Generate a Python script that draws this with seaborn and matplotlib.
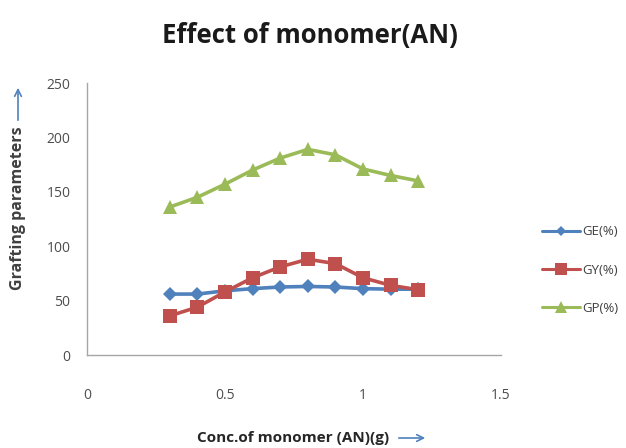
import matplotlib
matplotlib.use("Agg")
import matplotlib.pyplot as plt
import seaborn as sns
import pandas as pd

# Monomer concentration (g) and the three grafting parameters
conc = [0.3, 0.4, 0.5, 0.6, 0.7, 0.8, 0.9, 1.0, 1.1, 1.2]
ge = [56, 56, 59, 61, 62.5, 63, 62.5, 61, 60.5, 60.5]
gy = [36, 44, 58, 71, 81, 88, 84, 71, 64, 60]
gp = [136, 145, 157, 170, 181, 189, 184, 171, 165, 160]
series_names = ["GE(%)", "GY(%)", "GP(%)"]
x_ticks = [0, 0.5, 1, 1.5]
y_ticks = [0, 50, 100, 150, 200, 250]

df = pd.DataFrame({
    "conc": conc * 3,
    "value": ge + gy + gp,
    "param": [series_names[0]] * len(conc) + [series_names[1]] * len(conc)
             + [series_names[2]] * len(conc),
})

sns.set_style("white")
plt.rcParams["font.family"] = ["Open Sans", "DejaVu Sans"]

palette = {"GE(%)": "#4F81BD", "GY(%)": "#C0504D", "GP(%)": "#9BBB59"}
markers = {"GE(%)": "D", "GY(%)": "s", "GP(%)": "^"}

fig = plt.figure(figsize=(6.26, 4.48), dpi=100)
W, H = 626, 448
ax = fig.add_axes([87 / W, 1 - 355 / H, (501 - 87) / W, (355 - 83) / H])

sns.lineplot(data=df, x="conc", y="value", hue="param", style="param",
             markers=markers, dashes=False, palette=palette, ax=ax,
             linewidth=2.6, markeredgewidth=0, legend=False)
for line, name in zip(ax.lines, series_names):
    line.set_markersize({"GE(%)": 7, "GY(%)": 10, "GP(%)": 10}[name])

ax.set_xlim(0, 1.5)
ax.set_ylim(0, 250)
ax.set_xticks(x_ticks)
ax.set_xticklabels(["0", "0.5", "1", "1.5"])
ax.set_yticks(y_ticks)
ax.tick_params(axis="both", length=0, labelsize=10, colors="#4d4d4d")
ax.tick_params(axis="x", pad=24)
ax.tick_params(axis="y", pad=12)
for side in ("top", "right"):
    ax.spines[side].set_visible(False)
for side in ("left", "bottom"):
    ax.spines[side].set_color("#A6A6A6")
    ax.spines[side].set_linewidth(1.0)
ax.set_xlabel("")
ax.set_ylabel("")

# Legend on the right
handles = [plt.Line2D([], [], color=palette[n], marker=markers[n], lw=2.2,
                      markersize={"GE(%)": 5, "GY(%)": 8, "GP(%)": 8}[n],
                      markeredgewidth=0) for n in series_names]
fig.legend(handles, series_names, loc="center left",
           bbox_to_anchor=(530 / W, 1 - 270 / H), frameon=False,
           fontsize=9.5, handlelength=2.9, handletextpad=0.15,
           labelspacing=1.9, labelcolor="#404040")

fig.text(310 / W, 1 - 36 / H, "Effect of monomer(AN)", ha="center",
         va="center", fontsize=18.5, fontweight="bold", color="#1a1a1a")

fig.text(18 / W, 1 - 208 / H, "Grafting parameters", rotation=90,
         ha="center", va="center", fontsize=11.5, fontweight="bold",
         color="#404040")
fig.patches.append(matplotlib.patches.FancyArrowPatch(
    (18 / W, 1 - 123 / H), (18 / W, 1 - 85 / H), transform=fig.transFigure,
    arrowstyle="->", mutation_scale=12, color="#4F81BD", lw=1.2))

fig.text(293 / W, 1 - 438 / H, "Conc.of monomer (AN)(g)", ha="center",
         va="center", fontsize=11, fontweight="bold", color="#262626")
fig.patches.append(matplotlib.patches.FancyArrowPatch(
    (396 / W, 1 - 438 / H), (428 / W, 1 - 438 / H), transform=fig.transFigure,
    arrowstyle="->", mutation_scale=12, color="#4F81BD", lw=1.2))

fig.savefig("out.png", dpi=100)
